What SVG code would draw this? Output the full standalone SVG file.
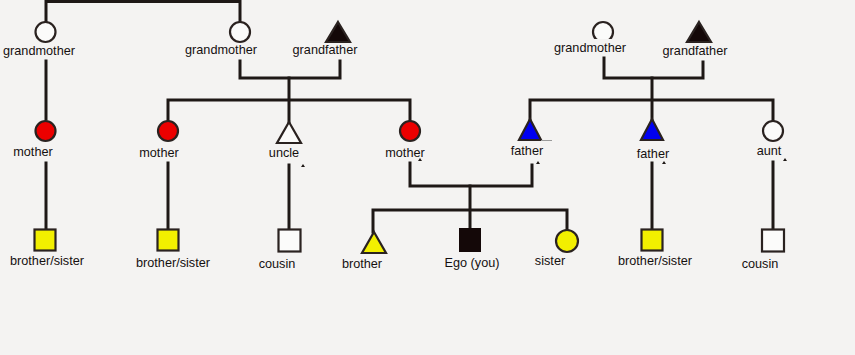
<svg xmlns="http://www.w3.org/2000/svg" width="855" height="355" viewBox="0 0 855 355">
<defs>
<style>
.bg{fill:#f4f3f2}
.ln{fill:none;stroke:#1e1816;stroke-width:3;stroke-linecap:square}
.sh{stroke:#2a2220;stroke-width:2.2}
.white{fill:#fbfbfa}
.red{fill:#ec0000}
.blue{fill:#0000f0}
.yellow{fill:#f2ef00}
.black{fill:#140808}
.lbl{font-family:"Liberation Sans",Arial,sans-serif;font-size:12.7px;fill:#141010;text-anchor:middle}
.tick{fill:#1e1816}
</style>
</defs>
<rect class="bg" x="0" y="0" width="855" height="355"/>

<g id="connectors">
<path class="ln" d="M46,21 V1.5 H240 V21"/>
<path class="ln" d="M46,61 V119"/>
<path class="ln" d="M240,61 V78 H340 V61"/>
<path class="ln" d="M289,78 V122"/>
<path class="ln" d="M168,120 V100 H410 V120"/>
<path class="ln" d="M604,58 V78 H703 V62"/>
<path class="ln" d="M652,78 V119"/>
<path class="ln" d="M530,119 V100 H773 V120"/>
<path class="ln" d="M46,163 V229"/>
<path class="ln" d="M168,163 V229"/>
<path class="ln" d="M289,165 V229"/>
<path class="ln" d="M410,163 V186 H532 V165"/>
<path class="ln" d="M470,186 V228"/>
<path class="ln" d="M373,232 V210 H567 V230"/>
<path class="ln" d="M652,163 V229"/>
<path class="ln" d="M773,162 V229"/>
</g>

<g id="gm-paternal-left">
<circle class="sh white" cx="45.5" cy="32" r="10"/>
<text class="lbl" x="39" y="55">grandmother</text>
</g>
<g id="gm-maternal">
<circle class="sh white" cx="240" cy="32" r="10"/>
<text class="lbl" x="221" y="54">grandmother</text>
</g>
<g id="gf-maternal">
<polygon class="sh black" points="338,22 350,42 326,42"/>
<text class="lbl" x="325" y="54">grandfather</text>
</g>
<g id="gm-paternal">
<circle class="sh white" cx="603" cy="32" r="10"/>
<rect class="bg" x="552" y="39" width="76" height="16"/>
<text class="lbl" x="590" y="52">grandmother</text>
</g>
<g id="gf-paternal">
<polygon class="sh black" points="699,22 711,42 687,42"/>
<text class="lbl" x="695" y="55">grandfather</text>
</g>

<g id="mother-1">
<circle class="sh red" cx="45.5" cy="131" r="10"/>
<text class="lbl" x="33" y="156">mother</text>
</g>
<g id="mother-2">
<circle class="sh red" cx="168" cy="131" r="10"/>
<text class="lbl" x="159" y="157">mother</text>
</g>
<g id="uncle">
<polygon class="sh white" points="289,122 301,143 277,143"/>
<text class="lbl" x="284" y="157">uncle</text>
<polygon class="tick" points="303,164 305,167 301,167"/>
</g>
<g id="mother-3">
<circle class="sh red" cx="410" cy="131" r="10"/>
<text class="lbl" x="405" y="157">mother</text>
<polygon class="tick" points="420,158 422,161 418,161"/>
</g>
<g id="father-1">
<polygon class="sh blue" points="530,119 541,140 519,140"/>
<line x1="541" y1="140.5" x2="552" y2="140.5" stroke="#9a9a9a" stroke-width="1"/>
<text class="lbl" x="527" y="155">father</text>
<polygon class="tick" points="538,161 540,164 536,164"/>
</g>
<g id="father-2">
<polygon class="sh blue" points="652,119 663,140 641,140"/>
<text class="lbl" x="653" y="158">father</text>
<polygon class="tick" points="664,161 666,164 662,164"/>
</g>
<g id="aunt">
<circle class="sh white" cx="773" cy="131" r="10"/>
<text class="lbl" x="769" y="155">aunt</text>
<polygon class="tick" points="785,158 787,161 783,161"/>
</g>

<g id="sibling-1">
<rect class="sh yellow" x="34.5" y="229.5" width="21" height="21"/>
<text class="lbl" x="47" y="265">brother/sister</text>
</g>
<g id="sibling-2">
<rect class="sh yellow" x="157.5" y="229.5" width="21" height="21"/>
<text class="lbl" x="173" y="267">brother/sister</text>
</g>
<g id="cousin-1">
<rect class="sh white" x="278.5" y="229.5" width="22" height="22"/>
<text class="lbl" x="277" y="268">cousin</text>
</g>
<g id="brother">
<polygon class="sh yellow" points="374,232 386,253 362,253"/>
<text class="lbl" x="362" y="268">brother</text>
</g>
<g id="ego">
<rect class="black" x="459" y="228" width="22" height="24"/>
<text class="lbl" x="472" y="267">Ego (you)</text>
</g>
<g id="sister">
<circle class="sh yellow" cx="567" cy="241" r="11"/>
<text class="lbl" x="550" y="265">sister</text>
</g>
<g id="sibling-3">
<rect class="sh yellow" x="641.5" y="229.5" width="21" height="21"/>
<text class="lbl" x="655" y="265">brother/sister</text>
</g>
<g id="cousin-2">
<rect class="sh white" x="762" y="229.5" width="22" height="22"/>
<text class="lbl" x="760" y="268">cousin</text>
</g>
</svg>
